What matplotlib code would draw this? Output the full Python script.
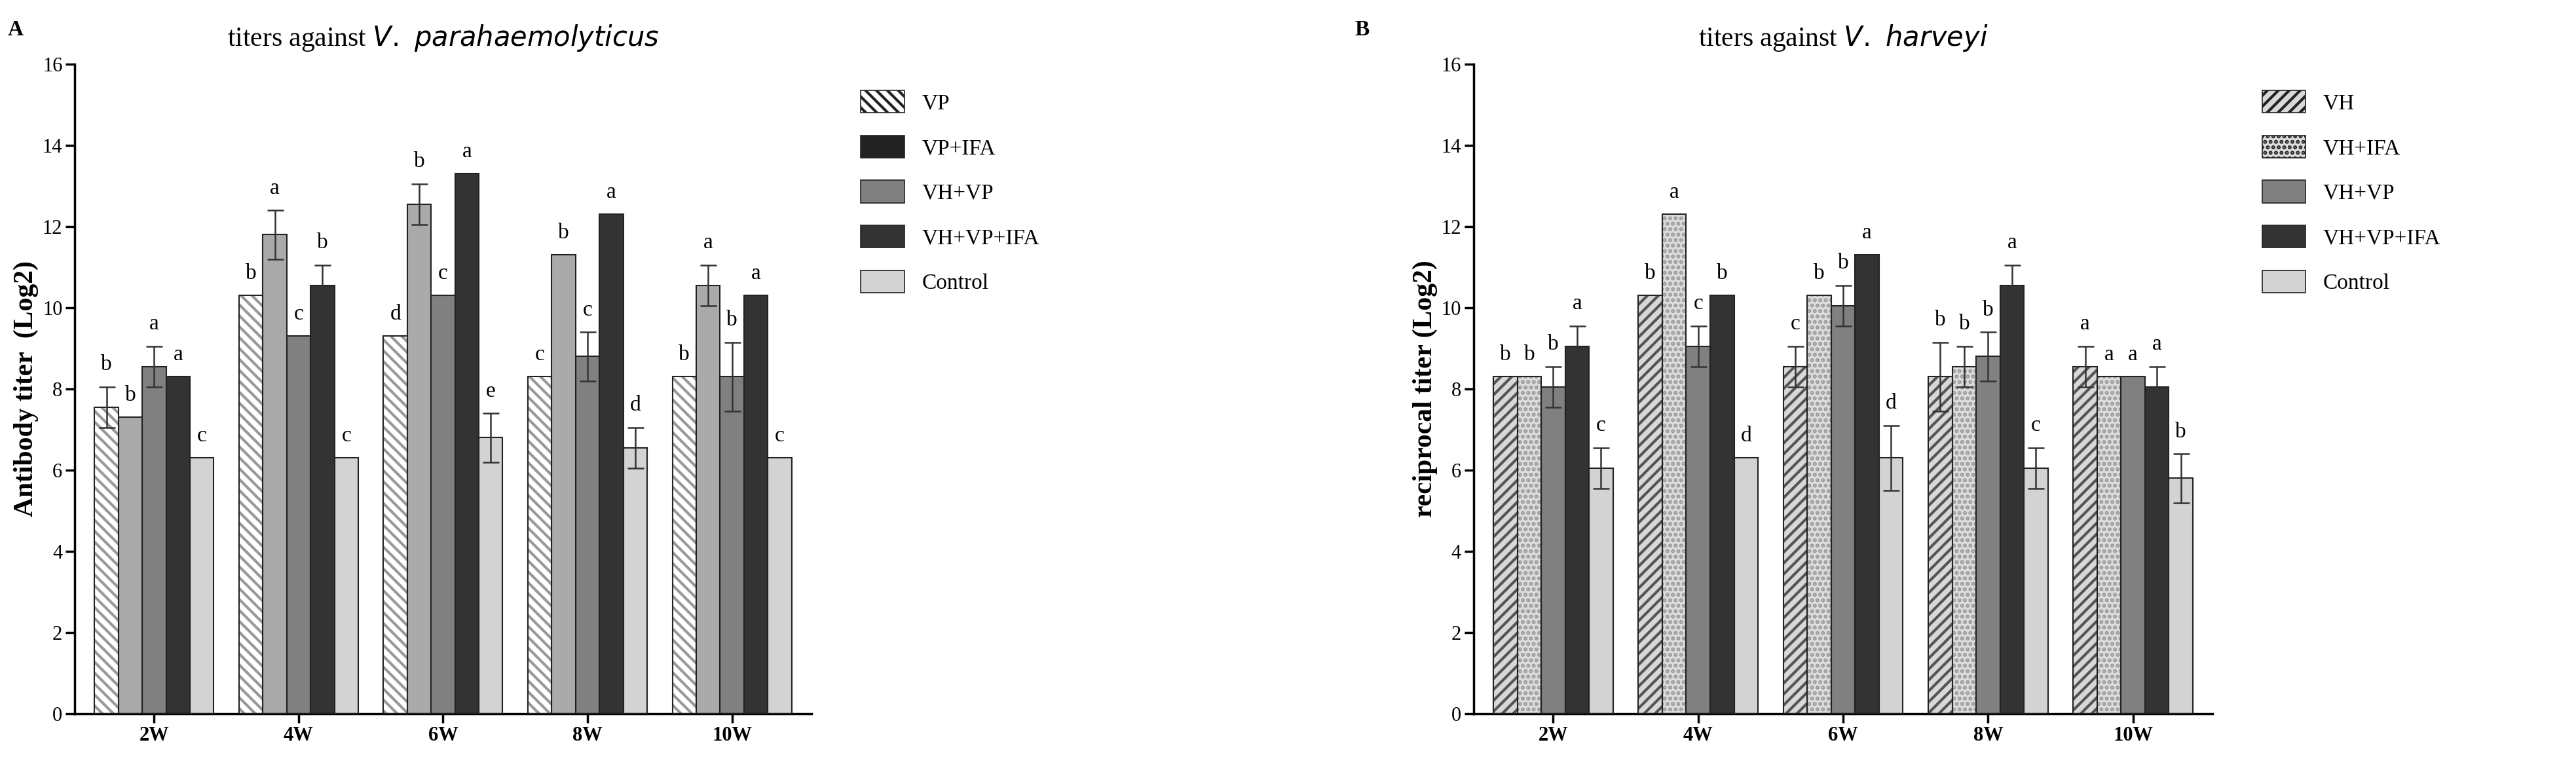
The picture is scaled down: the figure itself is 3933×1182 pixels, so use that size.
import matplotlib
matplotlib.use("Agg")
import matplotlib.pyplot as plt
import numpy as np

plt.rcParams['font.family'] = ['Liberation Serif', 'DejaVu Serif']
plt.rcParams['hatch.linewidth'] = 3.0

weeks = ["2W", "4W", "6W", "8W", "10W"]

series_A = ["VP", "VP+IFA", "VH+VP", "VH+VP+IFA", "Control"]
vals_A = [
    [7.55, 10.3, 9.3, 8.3, 8.3],
    [7.3, 11.8, 12.55, 11.3, 10.55],
    [8.55, 9.3, 10.3, 8.8, 8.3],
    [8.3, 10.55, 13.3, 12.3, 10.3],
    [6.3, 6.3, 6.8, 6.55, 6.3],
]
err_A = [
    [0.5, 0, 0, 0, 0],
    [0, 0.6, 0.5, 0, 0.5],
    [0.5, 0, 0, 0.6, 0.85],
    [0, 0.5, 0, 0, 0],
    [0, 0, 0.6, 0.5, 0],
]
let_A = [
    ["b", "b", "d", "c", "b"],
    ["b", "a", "b", "b", "a"],
    ["a", "c", "c", "c", "b"],
    ["a", "b", "a", "a", "a"],
    ["c", "c", "e", "d", "c"],
]

series_B = ["VH", "VH+IFA", "VH+VP", "VH+VP+IFA", "Control"]
vals_B = [
    [8.3, 10.3, 8.55, 8.3, 8.55],
    [8.3, 12.3, 10.3, 8.55, 8.3],
    [8.05, 9.05, 10.05, 8.8, 8.3],
    [9.05, 10.3, 11.3, 10.55, 8.05],
    [6.05, 6.3, 6.3, 6.05, 5.8],
]
err_B = [
    [0, 0, 0.5, 0.85, 0.5],
    [0, 0, 0, 0.5, 0],
    [0.5, 0.5, 0.5, 0.6, 0],
    [0.5, 0, 0, 0.5, 0.5],
    [0.5, 0, 0.8, 0.5, 0.6],
]
let_B = [
    ["b", "b", "c", "b", "a"],
    ["b", "a", "b", "b", "a"],
    ["b", "c", "b", "b", "a"],
    ["a", "b", "a", "a", "a"],
    ["c", "d", "d", "c", "b"],
]

styles_A = [
    dict(face="white", hatch="\\\\", hc="#999999"),
    dict(face="#f0f0f0", hatch="////////", hc="#aaaaaa"),
    dict(face="#808080", hatch=None, hc=None),
    dict(face="#333333", hatch=None, hc=None),
    dict(face="#d3d3d3", hatch=None, hc=None),
]
styles_B = [
    dict(face="#d8d8d8", hatch="//", hc="#555555"),
    dict(face="#dcdcdc", hatch="..", hc="#999999"),
    dict(face="#808080", hatch=None, hc=None),
    dict(face="#333333", hatch=None, hc=None),
    dict(face="#d3d3d3", hatch=None, hc=None),
]

fig = plt.figure(figsize=(39.33, 11.82), dpi=100)
axA = fig.add_axes([0.029, 0.078, 0.286, 0.839])
axB = fig.add_axes([0.572, 0.078, 0.287, 0.839])

def draw(ax, names, vals, errs, lets, styles, ylabel, title_pre, title_it, legx):
    x = np.arange(len(weeks))
    w = 0.165
    handles = []
    for i, nm in enumerate(names):
        pos = x + (i - 2) * w
        st = styles[i]
        if st["hatch"]:
            ax.bar(pos, vals[i], w, color=st["face"], edgecolor=st["hc"],
                   hatch=st["hatch"], linewidth=0, zorder=2)
        else:
            ax.bar(pos, vals[i], w, color=st["face"], linewidth=0, zorder=2)
        ax.bar(pos, vals[i], w, fill=False, edgecolor="#222222", linewidth=1.5, zorder=3)
        e = np.array(errs[i])
        m = e > 0
        if m.any():
            ax.errorbar(pos[m], np.array(vals[i])[m], yerr=e[m], fmt="none",
                        ecolor="#333333", elinewidth=1.8, capsize=9, capthick=1.8, zorder=4)
        for j in range(len(weeks)):
            top = vals[i][j] + errs[i][j]
            ax.text(pos[j], top + 0.3, lets[i][j], ha="center", va="bottom", fontsize=24)
        from matplotlib.patches import Patch
        handles.append(Patch(facecolor=st["face"], edgecolor="#222222",
                             hatch=st["hatch"], linewidth=1.2))
    ax.set_xlim(-0.55, 4.55)
    ax.set_ylim(0, 16)
    ax.set_yticks(range(0, 17, 2))
    ax.set_xticks(x)
    ax.set_xticklabels(weeks, fontweight="bold", fontsize=22)
    ax.tick_params(axis="y", labelsize=22, width=2.5, length=10)
    ax.tick_params(axis="x", width=2.5, length=10)
    for s in ["top", "right"]:
        ax.spines[s].set_visible(False)
    for s in ["left", "bottom"]:
        ax.spines[s].set_linewidth(2.5)
    ax.set_ylabel(ylabel, fontsize=30, fontweight="bold")
    ax.set_title(title_pre + r" $\it{" + title_it.replace(" ", r"\ ") + "}$",
                 fontsize=30, pad=20)
    leg = ax.legend(handles, names, loc="upper left", bbox_to_anchor=(legx, 0.99),
                    frameon=False, fontsize=24, handlelength=2.0, handleheight=1.2,
                    labelspacing=1.0)
    for h in leg.legend_handles:
        pass

plt.rcParams['mathtext.fontset'] = 'custom'
plt.rcParams['mathtext.it'] = 'Liberation Serif:italic'
plt.rcParams['mathtext.rm'] = 'Liberation Serif'

draw(axA, series_A, vals_A, err_A, let_A, styles_A, "Antibody titer  (Log2)",
     "titers against", "V. parahaemolyticus", 1.04)
draw(axB, series_B, vals_B, err_B, let_B, styles_B, "reciprocal titer (Log2)",
     "titers against", "V. harveyi", 1.04)

fig.text(0.003, 0.975, "A", fontsize=24, fontweight="bold", va="top")
fig.text(0.526, 0.975, "B", fontsize=24, fontweight="bold", va="top")

fig.savefig("out.png", dpi=100, facecolor="white")
